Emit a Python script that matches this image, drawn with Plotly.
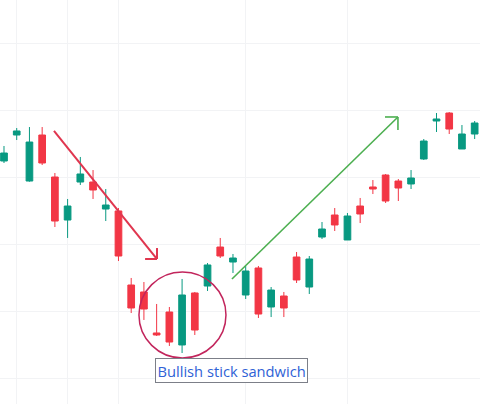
import plotly.graph_objects as go

# ---- data (candle index, OHLC) ----
idx = list(range(1, 39))
open_ = [122.39, 126.27, 119.40, 126.27, 120.00, 113.58, 119.25, 119.25, 115.22, 114.93,
         103.88, 102.84, 96.72, 99.85, 94.93, 102.69, 103.73, 109.55, 107.31, 102.39,
         106.42, 100.60, 102.24, 108.06, 103.58, 111.04, 114.33, 110.60, 115.67, 118.51,
         120.30, 119.40, 118.96, 122.69, 128.36, 129.55, 124.18, 126.42]
high = [124.63, 127.31, 127.46, 127.46, 120.60, 116.72, 122.99, 121.04, 118.21, 115.37,
        104.93, 104.33, 101.05, 100.60, 104.78, 102.84, 107.16, 110.90, 108.51, 106.72,
        106.72, 103.58, 102.84, 108.81, 108.21, 113.28, 115.37, 114.63, 116.87, 119.55,
        120.45, 119.70, 121.04, 125.67, 129.55, 129.70, 127.76, 128.36]
low = [122.09, 125.52, 119.30, 121.79, 112.54, 110.90, 118.81, 116.72, 113.43, 107.46,
       99.70, 98.66, 96.27, 94.78, 93.73, 96.42, 102.99, 107.91, 105.67, 101.79,
       98.96, 99.10, 99.10, 104.18, 102.54, 110.75, 111.94, 110.60, 113.13, 117.46,
       116.12, 116.42, 118.21, 122.54, 126.72, 126.42, 124.18, 125.67]
close = [123.58, 126.87, 125.22, 122.09, 113.43, 115.67, 120.45, 118.06, 115.82, 108.21,
         100.45, 100.30, 96.42, 95.37, 102.39, 97.16, 106.87, 108.21, 107.91, 105.97,
         99.55, 103.13, 100.45, 104.63, 107.76, 112.24, 112.84, 114.18, 114.48, 118.21,
         116.42, 118.36, 119.85, 125.37, 128.66, 127.16, 126.42, 128.06]

# grid positions
x_grid = [2, 6, 10, 20, 28]
y_grid = [90, 100, 110, 120, 130, 140]

# annotations (data units)
down_arrow = {"x0": 4.93, "y0": 126.87, "x1": 13.03, "y1": 107.76,
              "h1": (13.03, 109.40), "h2": (12.09, 107.76)}
up_arrow = {"x0": 18.92, "y0": 104.78, "x1": 31.97, "y1": 128.96,
            "h1": (30.95, 128.96), "h2": (31.97, 127.01)}
circle_box = {"x0": 11.61, "y0": 92.99, "x1": 18.45, "y1": 105.82}
label_text = "Bullish stick sandwich"
label_pos = (18.89, 91.19)
handle_pos = (18.85, 89.85)

GREEN = "#089981"
RED = "#f23645"

fig = go.Figure()
fig.add_trace(go.Candlestick(
    x=idx, open=open_, high=high, low=low, close=close,
    increasing=dict(line=dict(color=GREEN, width=1), fillcolor=GREEN),
    decreasing=dict(line=dict(color=RED, width=1), fillcolor=RED),
    hoverinfo="skip", showlegend=False,
))

shapes = []
def arrow(a, color, width):
    out = []
    out.append(dict(type="line", xref="x", yref="y", x0=a["x0"], y0=a["y0"], x1=a["x1"], y1=a["y1"],
                    line=dict(color=color, width=width)))
    for h in (a["h1"], a["h2"]):
        out.append(dict(type="line", xref="x", yref="y", x0=a["x1"], y0=a["y1"], x1=h[0], y1=h[1],
                        line=dict(color=color, width=width)))
    return out

shapes += arrow(down_arrow, "#e0364f", 2)
shapes += arrow(up_arrow, "#4caf50", 1.6)
shapes.append(dict(type="circle", xref="x", yref="y", **circle_box,
                   line=dict(color="#c2255c", width=1.5)))
fig.update_layout(shapes=shapes)

fig.add_annotation(x=label_pos[0], y=label_pos[1], xref="x", yref="y", text=label_text,
                   showarrow=False, font=dict(family="Open Sans", size=14.7, color="#2f62d6"),
                   bgcolor="white", bordercolor="#7c7f88", borderwidth=1, borderpad=1.5)

fig.add_trace(go.Scatter(x=[handle_pos[0]], y=[handle_pos[1]], mode="markers",
                         marker=dict(size=6, color="white", line=dict(color="#7a8ab8", width=1)),
                         hoverinfo="skip", showlegend=False))

fig.update_layout(
    width=480, height=404,
    margin=dict(l=0, r=0, t=0, b=0),
    paper_bgcolor="white", plot_bgcolor="white",
    boxgap=0.25,
    xaxis=dict(range=[0.686, 38.42], rangeslider=dict(visible=False), showticklabels=False,
               tickvals=x_grid, showgrid=True, gridcolor="#f2f3f5", zeroline=False, showline=False),
    yaxis=dict(range=[86.12, 146.42], showticklabels=False, tickvals=y_grid, showgrid=True,
               gridcolor="#f2f3f5", zeroline=False, showline=False),
)

fig.write_html("out.html", config={"displayModeBar": False},
               post_script="document.body.style.margin='0';document.body.style.overflow='hidden';")
